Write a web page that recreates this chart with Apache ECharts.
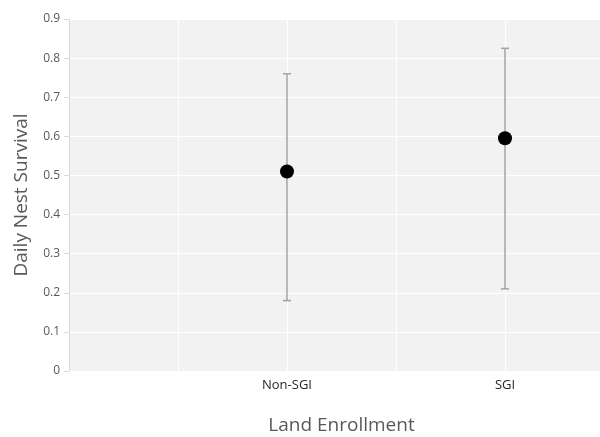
<!DOCTYPE html>
<html>
<head>
<meta charset="utf-8">
<script src="https://cdn.jsdelivr.net/npm/echarts@6/dist/echarts.min.js"></script>
<style>
  html, body { margin: 0; padding: 0; background: #fff; }
  #chart { width: 600px; height: 437px; }
</style>
</head>
<body>
<div id="chart"></div>
<script>
// Land enrollment groups and their position on the x scale
const categories = ['Non-SGI', 'SGI'];
const categoryX = [2, 4];
// Daily nest survival estimates with lower / upper confidence limits
const survival = [0.51, 0.595];
const lowerCI = [0.18, 0.21];
const upperCI = [0.76, 0.825];
const yTicks = [0, 0.1, 0.2, 0.3, 0.4, 0.5, 0.6, 0.7, 0.8, 0.9];

const font = '"Open Sans", "Liberation Sans", sans-serif';

const points = categoryX.map((x, i) => [x, survival[i]]);
const bars = categoryX.map((x, i) => [x, lowerCI[i], upperCI[i]]);

const chart = echarts.init(document.getElementById('chart'), null, { renderer: 'canvas' });

chart.setOption({
  animation: false,
  backgroundColor: '#ffffff',
  grid: {
    left: 69, right: -14, top: 19, bottom: 66,
    outerBoundsMode: 'none', containLabel: false,
    show: true, backgroundColor: '#f2f2f2', borderWidth: 0
  },
  xAxis: {
    type: 'value', min: 0, max: 5, interval: 1,
    name: 'Land Enrollment', nameLocation: 'middle', nameGap: 45,
    nameTextStyle: { fontFamily: font, fontSize: 19, color: '#595959' },
    axisLine: { show: false },
    axisTick: { show: false },
    splitLine: { show: true, lineStyle: { color: '#ffffff', width: 1 } },
    axisLabel: {
      margin: 8, fontFamily: font, fontSize: 13, color: '#262626',
      formatter: v => {
        const k = categoryX.indexOf(v);
        return k >= 0 ? categories[k] : '';
      }
    }
  },
  yAxis: {
    type: 'value', min: yTicks[0], max: yTicks[yTicks.length - 1], interval: 0.1,
    name: 'Daily Nest Survival', nameLocation: 'middle', nameGap: 38,
    nameTextStyle: { fontFamily: font, fontSize: 19, color: '#595959' },
    axisLine: { show: true, lineStyle: { color: '#d9d9d9' } },
    axisTick: { show: true, length: 5, lineStyle: { color: '#d9d9d9' } },
    splitLine: { show: true, lineStyle: { color: '#ffffff', width: 1 } },
    axisLabel: {
      margin: 9, fontFamily: font, fontSize: 12, color: '#595959',
      formatter: v => String(Math.round(v * 10) / 10)
    }
  },
  series: [
    {
      type: 'custom',
      data: bars,
      z: 2,
      renderItem: (params, api) => {
        const x = api.value(0);
        const lo = api.coord([x, api.value(1)]);
        const hi = api.coord([x, api.value(2)]);
        const half = 4;
        const style = { stroke: '#a3a3a3', lineWidth: 1.5 };
        return {
          type: 'group',
          children: [
            { type: 'line', shape: { x1: lo[0], y1: lo[1], x2: hi[0], y2: hi[1] }, style },
            { type: 'line', shape: { x1: hi[0] - half, y1: hi[1], x2: hi[0] + half, y2: hi[1] }, style },
            { type: 'line', shape: { x1: lo[0] - half, y1: lo[1], x2: lo[0] + half, y2: lo[1] }, style }
          ]
        };
      }
    },
    {
      type: 'scatter',
      data: points,
      z: 3,
      symbol: 'circle',
      symbolSize: 14,
      itemStyle: { color: '#000000', opacity: 1 }
    }
  ]
});
</script>
</body>
</html>
